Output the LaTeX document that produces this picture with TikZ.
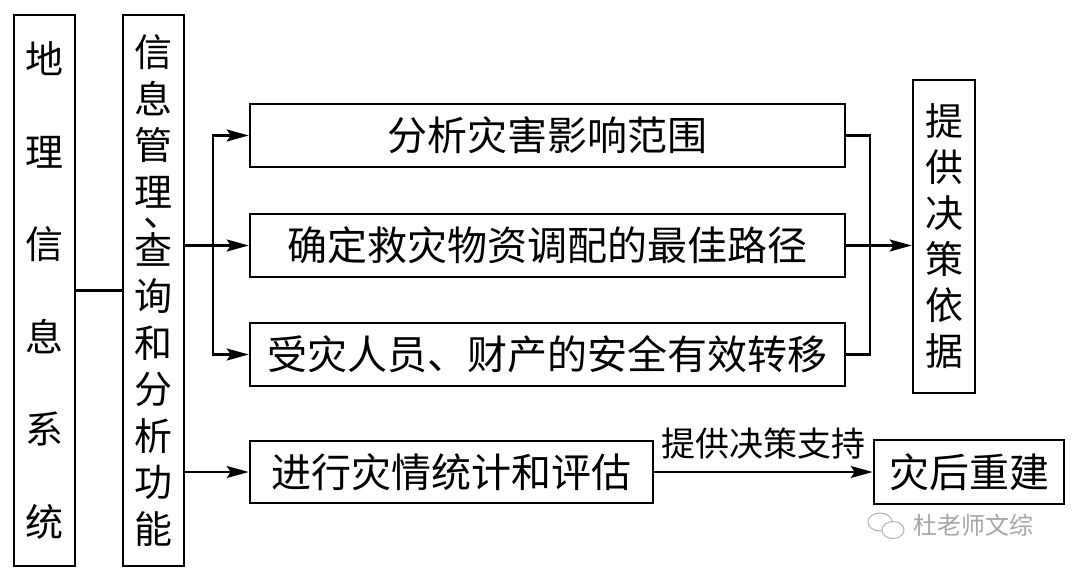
\documentclass[tikz,border=0pt]{standalone}
\usepackage{fontspec}
\newfontfamily\cjk{Noto Sans CJK SC}
\usetikzlibrary{arrows.meta,calc}
\begin{document}
\begin{tikzpicture}[x=1pt,y=-1pt,
  box/.style={draw,line width=2.6pt,inner sep=0pt,font=\cjk\fontsize{40}{42}\selectfont},
  conn/.style={line width=2.2pt},
  arr/.style={conn,-{Stealth[length=22pt,width=12pt,inset=4pt]}},
  lbl/.style={font=\cjk\fontsize{34}{36}\selectfont,inner sep=0pt},
  wm/.style={font=\cjk\fontsize{24}{26}\selectfont,text=black!35,inner sep=0pt}]
\useasboundingbox (0,0) rectangle (1080,573);
\fill[white] (0,0) rectangle (1080,573);
% left columns
\node[box,minimum width=61pt,minimum height=551pt,align=center,font=\cjk\fontsize{38}{92.6}\selectfont] (gis) at (44.5,290.5) {地\\理\\信\\息\\系\\统};
\node[box,minimum width=61pt,minimum height=551pt,align=center,font=\cjk\fontsize{38}{46.5}\selectfont] (fun) at (153.5,290.5) {信\\息\\管\\理\\[-26pt]\makebox[0pt]{\hspace*{18pt}、}\\[-8.6pt]查\\询\\和\\分\\析\\功\\能};
% middle boxes
\node[box,minimum width=595pt,minimum height=63pt] (a) at (547.5,135.5) {分析灾害影响范围};
\node[box,minimum width=595pt,minimum height=63pt] (b) at (547.5,245.5) {确定救灾物资调配的最佳路径};
\node[box,minimum width=595pt,minimum height=63pt] (c) at (547.5,354.5) {受灾人员、财产的安全有效转移};
\node[box,minimum width=403pt,minimum height=62pt] (d) at (451.5,472) {进行灾情统计和评估};
\node[box,minimum width=190pt,minimum height=64pt] (e) at (969,472) {灾后重建};
\node[box,minimum width=62pt,minimum height=313pt,align=center,font=\cjk\fontsize{38}{46}\selectfont] (f) at (944,236.5) {提\\供\\决\\策\\依\\据};
% connectors
\draw[conn] (gis) -- (fun);
\coordinate (j) at (213,245.5);
\draw[arr] (fun.east |- b) -- (b.west);
\draw[arr] (j) |- (a.west);
\draw[arr] (j) |- (c.west);
\draw[arr] (fun.east |- d) -- (d.west);
\coordinate (k) at (870,245.5);
\draw[conn] (a.east) -| (k);
\draw[conn] (c.east) -| (k);
\draw[arr] (b.east) -- (b.east -| f.west);
\draw[arr] (d.east) -- (e.west);
\node[lbl] (s) at (763,444) {提供决策支持};
% watermark
\node[wm,anchor=west] (w) at (913,525) {杜老师文综};
\draw[black!30,line width=1pt] (880,522) ellipse (12pt and 9pt);
\draw[black!30,line width=1pt,fill=white] (893,530) ellipse (11pt and 8.5pt);
\end{tikzpicture}
\end{document}
